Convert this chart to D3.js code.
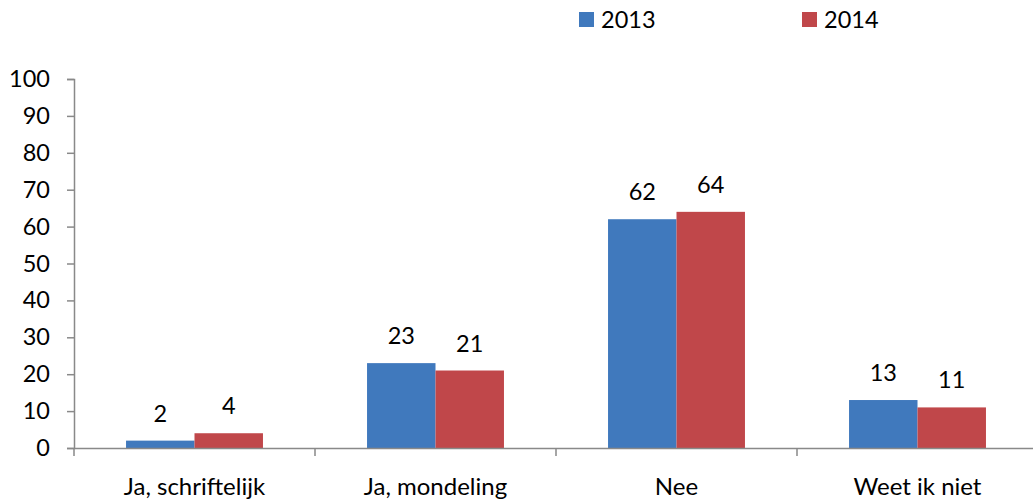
<!DOCTYPE html>
<html>
<head>
<meta charset="utf-8">
<script src="https://cdn.jsdelivr.net/npm/d3@7"></script>
<style>
  html, body { margin: 0; padding: 0; background: #fff; }
  svg { display: block; font-family: "Lato", "Open Sans", sans-serif; }
</style>
</head>
<body>
<svg id="chart" width="1033" height="500"></svg>
<script>
// Antwoorden per jaar (percentages)
const categories = ["Ja, schriftelijk", "Ja, mondeling", "Nee", "Weet ik niet"];
const seriesNames = ["2013", "2014"];
const values2013 = [2, 23, 62, 13];
const values2014 = [4, 21, 64, 11];
const yTicks = [0, 10, 20, 30, 40, 50, 60, 70, 80, 90, 100];
const colors = ["#4079BD", "#C0474A"];

const series = [values2013, values2014];
const fontSize = 23.5;

const svg = d3.select("#chart");

const x = d3.scaleBand().domain(categories).range([74, 1038]).paddingInner(0).paddingOuter(0);
const xSub = d3.scaleBand().domain(seriesNames).range([0, x.bandwidth()]).paddingInner(0).paddingOuter(0.76);
const y = d3.scaleLinear().domain([0, 100]).range([448, 79]);

const axisColor = "#898989";

// y axis
const yAxis = svg.append("g").attr("transform", "translate(74,0)")
  .call(d3.axisLeft(y).tickValues(yTicks).tickSize(7).tickPadding(17));
yAxis.select(".domain").attr("stroke", axisColor).attr("stroke-width", 1.5);
yAxis.selectAll(".tick line").attr("stroke", axisColor).attr("stroke-width", 1.5);
yAxis.selectAll(".tick text").attr("font-size", fontSize).attr("fill", "#000")
  .attr("font-family", "Lato, 'Open Sans', sans-serif");

// bars
const groups = svg.append("g").selectAll("g")
  .data(categories).join("g")
  .attr("transform", d => `translate(${x(d)},0)`);

groups.selectAll("rect")
  .data((d, i) => seriesNames.map((s, k) => ({ s, v: series[k][i], k })))
  .join("rect")
  .attr("x", d => xSub(d.s))
  .attr("width", xSub.bandwidth())
  .attr("y", d => y(d.v))
  .attr("height", d => y(0) - y(d.v))
  .attr("fill", d => colors[d.k]);

// value labels
groups.selectAll("text.val")
  .data((d, i) => seriesNames.map((s, k) => ({ s, v: series[k][i], k })))
  .join("text")
  .attr("class", "val")
  .attr("x", d => xSub(d.s) + xSub.bandwidth() / 2)
  .attr("y", d => y(d.v) - 19)
  .attr("text-anchor", "middle")
  .attr("font-size", fontSize)
  .attr("fill", "#000")
  .text(d => d.v);

// x axis
const xAxis = svg.append("g").attr("transform", `translate(0,${y(0)})`)
  .call(d3.axisBottom(x).tickSize(0).tickPadding(30));
xAxis.select(".domain").attr("stroke", axisColor).attr("stroke-width", 1.5);
xAxis.selectAll(".tick text").attr("font-size", 24).attr("fill", "#000")
  .attr("font-family", "Lato, 'Open Sans', sans-serif");
// category separators
xAxis.selectAll("line.sep")
  .data(categories.map(c => x(c)).concat([x.range()[1]]))
  .join("line")
  .attr("class", "sep")
  .attr("x1", d => d).attr("x2", d => d)
  .attr("y1", 0).attr("y2", 8)
  .attr("stroke", axisColor).attr("stroke-width", 1.5);

// legend
const legendX = [579, 802];
const legend = svg.append("g").selectAll("g")
  .data(seriesNames).join("g")
  .attr("transform", (d, i) => `translate(${legendX[i]},12)`);
legend.append("rect").attr("width", 15).attr("height", 15)
  .attr("fill", (d, i) => colors[i]);
legend.append("text").attr("x", 22).attr("y", 15.5)
  .attr("font-size", fontSize).attr("fill", "#000").text(d => d);
</script>
</body>
</html>
